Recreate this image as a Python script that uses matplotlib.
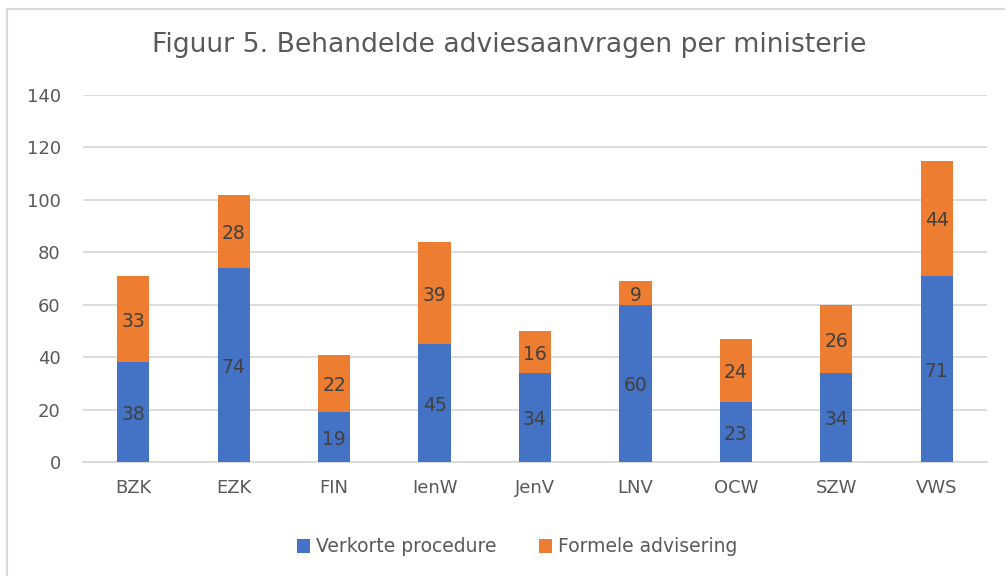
import matplotlib
matplotlib.use("Agg")
import matplotlib.pyplot as plt
from matplotlib.lines import Line2D
from matplotlib.transforms import offset_copy
import numpy as np

categories = ["BZK", "EZK", "FIN", "IenW", "JenV", "LNV", "OCW", "SZW", "VWS"]
verkort = [38, 74, 19, 45, 34, 60, 23, 34, 71]
formeel = [33, 28, 22, 39, 16, 9, 24, 26, 44]
yticks = [0, 20, 40, 60, 80, 100, 120, 140]

blue = "#4472C4"
orange = "#ED7D31"
txt = "#595959"
lbl = "#404040"

plt.rcParams['font.family'] = ['DejaVu Sans']

W, H = 1005, 576
fig = plt.figure(figsize=(W / 100, H / 100), dpi=100)
# chart area border (top and left visible)
fig.lines.append(Line2D([7 / W, 1.01], [1 - 9 / H, 1 - 9 / H], transform=fig.transFigure,
                        color="#D9D9D9", linewidth=1.5))
fig.lines.append(Line2D([7 / W, 7 / W], [1 - 9 / H, -0.01], transform=fig.transFigure,
                        color="#D9D9D9", linewidth=1.5))

ax = fig.add_axes([83 / W, 1 - 462 / H, (987 - 83) / W, (462 - 95) / H])

x = np.arange(len(categories))
w = 0.32
b1 = ax.bar(x, verkort, w, color=blue, label="Verkorte procedure", zorder=3)
b2 = ax.bar(x, formeel, w, bottom=verkort, color=orange, label="Formele advisering", zorder=3)

tr = offset_copy(ax.transData, fig=fig, x=0, y=-2.5, units="dots")
for i in range(len(categories)):
    ax.text(x[i], verkort[i] / 2, str(verkort[i]), ha="center", va="center",
            fontsize=13.5, color=lbl, zorder=4, transform=tr)
    ax.text(x[i], verkort[i] + formeel[i] / 2, str(formeel[i]), ha="center", va="center",
            fontsize=13.5, color=lbl, zorder=4, transform=tr)

ax.set_xlim(-0.5, len(categories) - 0.5)
ax.set_ylim(0, 140)
ax.set_yticks(yticks)
ax.set_xticks(x)
ax.set_xticklabels(categories)
ax.tick_params(axis="both", length=0, labelsize=13, colors=txt)
ax.tick_params(axis="y", pad=16)
ax.tick_params(axis="x", pad=12)
ax.grid(axis="y", color="#D9D9D9", linewidth=1.3, zorder=0)
for s in ["top", "right", "left"]:
    ax.spines[s].set_visible(False)
ax.spines["bottom"].set_color("#D9D9D9")
ax.spines["bottom"].set_linewidth(1.3)

fig.text(509 / W, 1 - 45 / H, "Figuur 5. Behandelde adviesaanvragen per ministerie",
         ha="center", va="center", fontsize=19.2, color=txt)

fig.legend(handles=[b1, b2], loc="center", bbox_to_anchor=(517 / W, 1 - 547 / H),
           ncol=2, frameon=False, fontsize=13.5, labelcolor=txt,
           handlelength=0.7, handleheight=0.7, handletextpad=0.3, columnspacing=2.3)

fig.savefig("out.png", dpi=100)
